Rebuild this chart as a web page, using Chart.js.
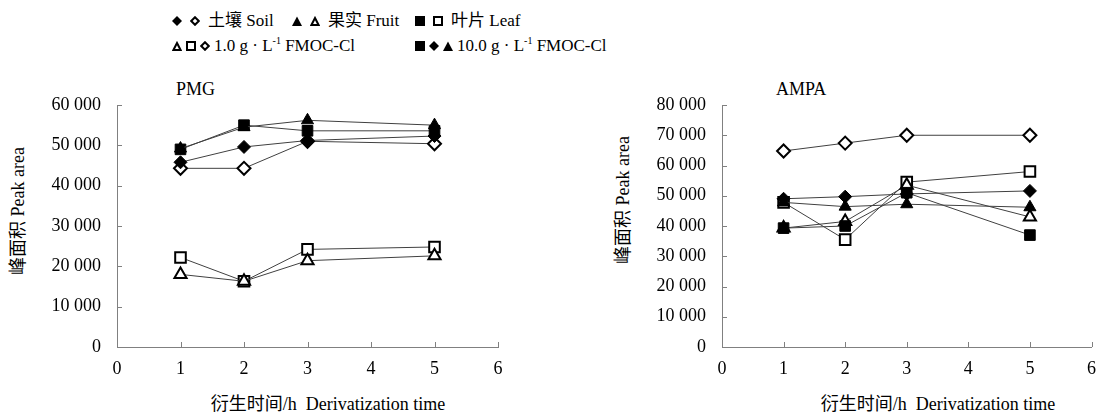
<!DOCTYPE html>
<html>
<head>
<meta charset="utf-8">
<script src="https://cdn.jsdelivr.net/npm/chart.js@4/dist/chart.umd.min.js"></script>
<style>
  body { margin: 0; background: #fff; width: 1107px; height: 412px; position: relative; overflow: hidden;
         font-family: "Liberation Serif", "Noto Sans CJK SC", serif; color: #000; }
  .t { position: absolute; white-space: nowrap; line-height: 1; }
  .leg { font-size: 17px; }
  .leg svg { vertical-align: 0px; margin-right: 4px; }
  .wide svg { margin-right: 8px; }
  .box { position: absolute; }
  .rot { transform: translate(-50%, -50%) rotate(-90deg); font-size: 18px; }
  .xt { transform: translate(-50%, -50%); font-size: 18px; }
</style>
</head>
<body>

<div class="t leg wide" style="left:172px;top:12px" id="l1"></div>
<div class="t leg wide" style="left:292px;top:12px" id="l2"></div>
<div class="t leg wide" style="left:415px;top:12px" id="l3"></div>
<div class="t leg" style="left:172px;top:36px" id="l4"></div>
<div class="t leg" style="left:415px;top:36px" id="l5"></div>

<div class="t" style="left:176px;top:80px;font-size:18px">PMG</div>
<div class="t" style="left:776px;top:80px;font-size:18px">AMPA</div>

<div class="t rot" style="left:18px;top:211px">峰面积 Peak area</div>
<div class="t rot" style="left:623px;top:200px">峰面积 Peak area</div>
<div class="t xt" style="left:328px;top:404px">衍生时间/h&nbsp;&nbsp;Derivatization time</div>
<div class="t xt" style="left:938px;top:404px">衍生时间/h&nbsp;&nbsp;Derivatization time</div>

<div class="box" style="left:0;top:60px;width:560px;height:352px"><canvas id="pmg" width="560" height="352"></canvas></div>
<div class="box" style="left:580px;top:60px;width:527px;height:352px"><canvas id="ampa" width="527" height="352"></canvas></div>

<script>
// derivatization time (h)
var hours = [1, 2, 3, 5];

// PMG peak area
var pmgSoil10 = [45800, 49600, 51200, 52300];
var pmgSoil1 = [44300, 44300, 51000, 50400];
var pmgFruit10 = [49200, 54500, 56200, 55000];
var pmgFruit1 = [18000, 16300, 21400, 22600];
var pmgLeaf10 = [49000, 55000, 53600, 53600];
var pmgLeaf1 = [22200, 16300, 24200, 24800];

// AMPA peak area
var ampaSoil10 = [49000, 49700, 50600, 51600];
var ampaSoil1 = [64800, 67400, 70000, 70000];
var ampaFruit10 = [47800, 46400, 47200, 46200];
var ampaFruit1 = [39300, 41500, 53500, 43000];
var ampaLeaf10 = [39300, 40000, 51000, 37000];
var ampaLeaf1 = [47800, 35500, 54500, 58000];

var pmgMax = 60000;
var ampaMax = 80000;

function sym(shape, filled) {
  var s = "";
  if (shape == "d") s = filled ? '<polygon points="5,0 10,5 5,10 0,5" fill="#000"/>' : '<polygon points="5,1.2 8.8,5 5,8.8 1.2,5" fill="#fff" stroke="#000" stroke-width="2"/>';
  if (shape == "t") s = filled ? '<polygon points="5,0.5 10,10 0,10" fill="#000"/>' : '<polygon points="5,2 8.6,9 1.4,9" fill="#fff" stroke="#000" stroke-width="2"/>';
  if (shape == "s") s = filled ? '<rect x="0" y="0" width="10" height="10" fill="#000"/>' : '<rect x="1" y="1" width="8" height="8" fill="#fff" stroke="#000" stroke-width="2"/>';
  return '<svg width="10" height="10" viewBox="0 0 10 10">' + s + '</svg>';
}
document.getElementById("l1").innerHTML = sym("d", true) + sym("d", false) + "土壤 Soil";
document.getElementById("l2").innerHTML = sym("t", true) + sym("t", false) + "果实 Fruit";
document.getElementById("l3").innerHTML = sym("s", true) + sym("s", false) + "叶片 Leaf";
document.getElementById("l4").innerHTML = sym("t", false) + sym("s", false) + sym("d", false) + "1.0 g · L<sup style='font-size:10px'>-1</sup> FMOC-Cl";
document.getElementById("l5").innerHTML = sym("s", true) + sym("d", true) + sym("t", true) + "10.0 g · L<sup style='font-size:10px'>-1</sup> FMOC-Cl";

function pts(arr) {
  return hours.map(function (h, i) { return { x: h, y: arr[i] }; });
}

function series(label, arr, shape, filled) {
  var r = shape == "rect" ? 7.5 : (shape == "triangle" ? 7 : 6.5);
  return {
    label: label,
    data: pts(arr),
    borderColor: "#404040",
    borderWidth: 1,
    pointStyle: shape,
    pointRadius: r,
    pointHoverRadius: r,
    pointBackgroundColor: filled ? "#000" : "#fff",
    pointBorderColor: "#000",
    pointBorderWidth: filled ? 1 : 2,
    tension: 0
  };
}

var innerTicks = {
  id: "innerTicks",
  beforeDatasetsDraw: function (chart) {
    var ctx = chart.ctx, a = chart.chartArea;
    var xs = chart.scales.x, ys = chart.scales.y;
    ctx.save();
    ctx.strokeStyle = "#808080";
    ctx.lineWidth = 1;
    ys.ticks.forEach(function (t) {
      var y = Math.round(ys.getPixelForValue(t.value)) + 0.5;
      ctx.beginPath(); ctx.moveTo(a.left, y); ctx.lineTo(a.left + 5, y); ctx.stroke();
    });
    xs.ticks.forEach(function (t) {
      var x = Math.round(xs.getPixelForValue(t.value)) + 0.5;
      ctx.beginPath(); ctx.moveTo(x, a.bottom); ctx.lineTo(x, a.bottom - 5); ctx.stroke();
    });
    ctx.restore();
  }
};

var font = { family: '"Liberation Serif", serif', size: 18 };

function makeChart(id, datasets, yMax, yWidth, padRight) {
  return new Chart(document.getElementById(id), {
    type: "line",
    data: { datasets: datasets },
    options: {
      responsive: false,
      animation: false,
      devicePixelRatio: 1,
      layout: { padding: { left: 0, right: padRight, top: 45, bottom: 0 } },
      plugins: { legend: { display: false }, tooltip: { enabled: false } },
      scales: {
        x: {
          type: "linear", min: 0, max: 6,
          ticks: { stepSize: 1, color: "#000", font: font, padding: 11 },
          grid: { drawOnChartArea: false, drawTicks: false },
          border: { color: "#808080" },
          afterFit: function (s) { s.height = 65; }
        },
        y: {
          min: 0, max: yMax,
          ticks: {
            stepSize: 10000, color: "#000", font: font, padding: 16,
            callback: function (v) { return v == 0 ? "0" : (v / 1000) + " 000"; }
          },
          grid: { drawOnChartArea: false, drawTicks: false },
          border: { color: "#808080" },
          afterFit: function (s) { s.width = yWidth; }
        }
      }
    },
    plugins: [innerTicks]
  });
}

makeChart("pmg", [
  series("Soil 10.0", pmgSoil10, "rectRot", true),
  series("Fruit 10.0", pmgFruit10, "triangle", true),
  series("Leaf 10.0", pmgLeaf10, "rect", true),
  series("Soil 1.0", pmgSoil1, "rectRot", false),
  series("Fruit 1.0", pmgFruit1, "triangle", false),
  series("Leaf 1.0", pmgLeaf1, "rect", false)
], pmgMax, 117, 62);

makeChart("ampa", [
  series("Soil 10.0", ampaSoil10, "rectRot", true),
  series("Fruit 10.0", ampaFruit10, "triangle", true),
  series("Leaf 10.0", ampaLeaf10, "rect", true),
  series("Soil 1.0", ampaSoil1, "rectRot", false),
  series("Fruit 1.0", ampaFruit1, "triangle", false),
  series("Leaf 1.0", ampaLeaf1, "rect", false)
], ampaMax, 142, 5);
</script>
</body>
</html>
